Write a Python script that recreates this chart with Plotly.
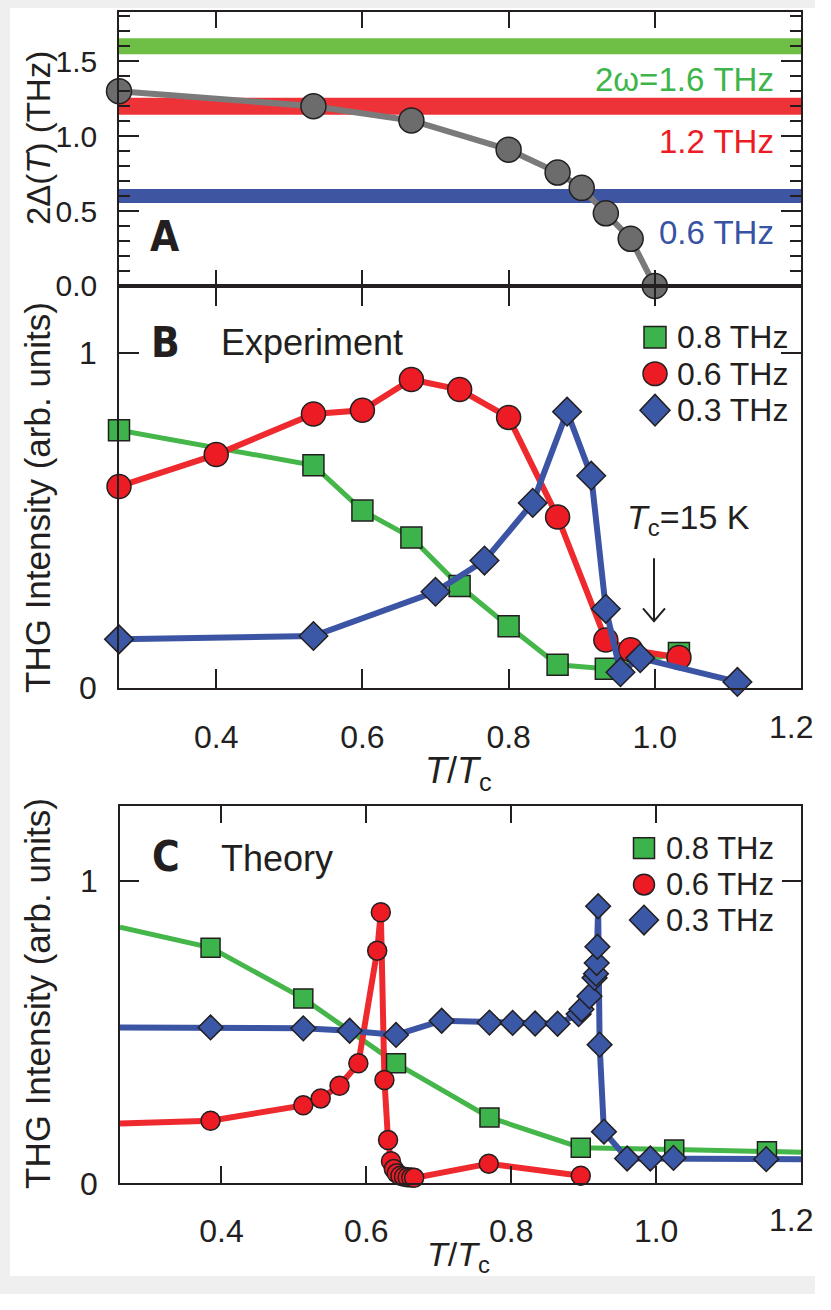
import plotly.graph_objects as go

# The window shows a vertical scrollbar strip, so the figure is kept 815 px wide to avoid
# any overflow (which would make the capture rescale the page).
W, H = 815, 1294
def px(x): return x / W
def py(y): return 1 - y / H

# ---------------- data ----------------
# Panel A: superconducting gap 2Δ(T) vs T/Tc
a_t = [0.267, 0.533, 0.667, 0.8, 0.867, 0.9, 0.933, 0.967, 1.0]
a_gap = [1.30, 1.20, 1.105, 0.91, 0.757, 0.655, 0.485, 0.315, 0.0]
band_freq = [1.6, 1.2, 0.6]
band_labels = ["2ω=1.6 THz", "1.2 THz", "0.6 THz"]
band_label_y = [1.38, 0.967, 0.355]

# Panel B: experiment
b_t_08 = [0.267, 0.533, 0.6, 0.667, 0.733, 0.8, 0.867, 0.933, 1.033]
b_i_08 = [0.77, 0.665, 0.53, 0.45, 0.305, 0.185, 0.07, 0.058, 0.105]
b_t_06 = [0.267, 0.4, 0.533, 0.6, 0.667, 0.733, 0.8, 0.867, 0.933, 0.967, 1.033]
b_i_06 = [0.602, 0.697, 0.818, 0.829, 0.921, 0.891, 0.808, 0.511, 0.144, 0.115, 0.092]
b_t_03 = [0.267, 0.533, 0.7, 0.767, 0.833, 0.88, 0.913, 0.933, 0.953, 0.98, 1.113]
b_i_03 = [0.146, 0.156, 0.288, 0.381, 0.553, 0.825, 0.634, 0.237, 0.048, 0.09, 0.019]

# Panel C: theory (first/last entries of some series are the curve ends at the frame)
c_t_08 = [0.26, 0.385, 0.513, 0.641, 0.770, 0.896, 1.025, 1.153, 1.2]
c_i_08 = [0.848, 0.780, 0.612, 0.397, 0.218, 0.118, 0.112, 0.106, 0.103]
c_t_06 = [0.26, 0.385, 0.513, 0.537, 0.563, 0.589, 0.615, 0.620, 0.625, 0.630, 0.634,
          0.638, 0.642, 0.647, 0.652, 0.657, 0.662, 0.666, 0.769, 0.896]
c_i_06 = [0.198, 0.207, 0.258, 0.281, 0.323, 0.397, 0.770, 0.897, 0.342, 0.143, 0.073,
          0.047, 0.033, 0.025, 0.022, 0.020, 0.019, 0.018, 0.065, 0.025]
c_t_03 = [0.26, 0.385, 0.513, 0.577, 0.641, 0.704, 0.770, 0.802, 0.833, 0.864, 0.893,
          0.897, 0.908, 0.915, 0.917, 0.918, 0.919, 0.920, 0.922, 0.928, 0.960, 0.992,
          1.024, 1.152, 1.2]
c_i_03 = [0.516, 0.516, 0.513, 0.505, 0.491, 0.538, 0.532, 0.531, 0.529, 0.528, 0.560,
          0.576, 0.619, 0.680, 0.694, 0.729, 0.783, 0.917, 0.459, 0.171, 0.082, 0.082,
          0.084, 0.080, 0.080]

legend_labels = ["0.8 THz", "0.6 THz", "0.3 THz"]
x_ticks = [0.4, 0.6, 0.8, 1.0, 1.2]
x_ticktext = ["0.4", "0.6", "0.8", "1.0", ""]   # last label drawn as annotation so it is not cut off
last_x_label = "1.2"

# ---------------- styles ----------------
INK = "#231f20"
GREEN, GREEN_L = "#3cb44b", "#45b649"
RED, RED_L = "#ed1c24", "#ee2a2e"
BLUE, BLUE_L = "#3b58a6", "#3b55a4"
BAND_COLORS = ["#6fbe45", "#ee3338", "#3e55a2"]
TEXT_COLORS = ["#3db54a", "#ed1c24", "#3953a4"]
FONT = "Liberation Sans, Arial, sans-serif"
BOLDC = "DejaVu Sans Condensed, DejaVu Sans, sans-serif"

fig = go.Figure()

# Panel A
fig.add_trace(go.Scatter(x=a_t, y=a_gap, mode="lines+markers", xaxis="x", yaxis="y",
                         line=dict(color="#7a7a7a", width=6),
                         marker=dict(size=25, color="#6c6c6c", line=dict(color=INK, width=1.5)),
                         cliponaxis=False, showlegend=False))

# Panel B
b_series = [(b_t_08, b_i_08, "square", GREEN, GREEN_L, 21, 5, legend_labels[0]),
            (b_t_06, b_i_06, "circle", RED, RED_L, 24, 6, legend_labels[1]),
            (b_t_03, b_i_03, "diamond", BLUE, BLUE_L, 22, 6, legend_labels[2])]
for t, v, sym, col, lcol, sz, lw, name in b_series:
    fig.add_trace(go.Scatter(x=t, y=v, mode="lines+markers", xaxis="x2", yaxis="y2", name=name,
                             line=dict(color=lcol, width=lw),
                             marker=dict(symbol=sym, size=sz, color=col, line=dict(color=INK, width=1.5)),
                             cliponaxis=False, showlegend=False))

# Panel C: lines (clipped to frame) then markers
c_series = [(c_t_08, c_i_08, "square", GREEN, GREEN_L, 19, 5, legend_labels[0], 1, -1),
            (c_t_06, c_i_06, "circle", RED, RED_L, 19, 6, legend_labels[1], 1, None),
            (c_t_03, c_i_03, "diamond", BLUE, BLUE_L, 19, 6, legend_labels[2], 1, -1)]
for t, v, sym, col, lcol, sz, lw, name, s0, s1 in c_series:
    fig.add_trace(go.Scatter(x=t, y=v, mode="lines", xaxis="x3", yaxis="y3",
                             line=dict(color=lcol, width=lw), showlegend=False, hoverinfo="skip"))
for t, v, sym, col, lcol, sz, lw, name, s0, s1 in c_series:
    fig.add_trace(go.Scatter(x=t[s0:s1], y=v[s0:s1], mode="markers", xaxis="x3", yaxis="y3", name=name,
                             marker=dict(symbol=sym, size=sz, color=col, line=dict(color=INK, width=1.5)),
                             cliponaxis=False, showlegend=False))

# ---------------- axes ----------------
base = dict(showline=True, linecolor=INK, linewidth=1.5, mirror="ticks", ticks="inside",
            tickcolor=INK, tickwidth=1.5, showgrid=False, zeroline=False,
            tickfont=dict(family=FONT, size=32, color=INK))

fig.update_layout(
    xaxis=dict(base, domain=[px(119), px(801)], range=[0.267, 1.2], anchor="y",
               tickvals=x_ticks, ticklen=16, showticklabels=False),
    yaxis=dict(base, domain=[py(290), py(12)], range=[0, 1.83], anchor="x",
               tickvals=[0, 0.5, 1.0, 1.5], ticktext=["0.0", "0.5", "1.0", "1.5"], ticklen=20,
               tickfont=dict(family=FONT, size=30, color=INK),
               minor=dict(dtick=0.1, ticklen=11, ticks="inside", tickcolor=INK, tickwidth=1.5),
               ticklabelstandoff=14),
    xaxis2=dict(base, domain=[px(119), px(801)], range=[0.267, 1.2], anchor="y2",
                tickvals=x_ticks, ticktext=x_ticktext, ticklen=20, ticklabelstandoff=20),
    yaxis2=dict(base, domain=[py(698), py(290)], range=[0, 1.2], anchor="x2",
                tickvals=[0, 1], ticktext=["0", "1"], ticklen=20, ticklabelstandoff=14),
    xaxis3=dict(base, domain=[px(120), px(801)], range=[0.26, 1.2], anchor="y3",
                tickvals=x_ticks, ticktext=x_ticktext, ticklen=18, ticklabelstandoff=19),
    yaxis3=dict(base, domain=[py(1200), py(817)], range=[0, 1.25], anchor="x3",
                tickvals=[0, 1], ticktext=["0", "1"], ticklen=19, ticklabelstandoff=14),
)

shapes = []
# page background (white sheet on grey)
shapes.append(dict(type="rect", xref="paper", yref="paper", x0=px(10), x1=1, y0=0, y1=py(8),
                   fillcolor="white", line=dict(width=0), layer="below"))
# frequency bands in panel A
for f, c, w in zip(band_freq, BAND_COLORS, [16, 17, 14]):
    shapes.append(dict(type="line", xref="x domain", yref="y", x0=0, x1=1, y0=f, y1=f,
                       line=dict(color=c, width=w), layer="below"))

def legend_swatches(cx, ys, sq, cd, dw, dh):
    out = []
    out.append(dict(type="rect", xref="paper", yref="paper",
                    x0=px(cx - sq / 2), x1=px(cx + sq / 2), y0=py(ys[0] + sq / 2), y1=py(ys[0] - sq / 2),
                    fillcolor=GREEN, line=dict(color=INK, width=1.5)))
    out.append(dict(type="circle", xref="paper", yref="paper",
                    x0=px(cx - cd / 2), x1=px(cx + cd / 2), y0=py(ys[1] + cd / 2), y1=py(ys[1] - cd / 2),
                    fillcolor=RED, line=dict(color=INK, width=1.5)))
    y = ys[2]
    path = (f"M {px(cx - dw/2)} {py(y)} L {px(cx)} {py(y - dh/2)} L {px(cx + dw/2)} {py(y)} "
            f"L {px(cx)} {py(y + dh/2)} Z")
    out.append(dict(type="path", xref="paper", yref="paper", path=path,
                    fillcolor=BLUE, line=dict(color=INK, width=1.5)))
    return out

shapes += legend_swatches(655, [342, 379, 416], 22, 24, 30, 32)
shapes += legend_swatches(644, [860, 897, 933], 21, 21, 29, 30)

# Tc arrow
ax_ = px(654)
shapes.append(dict(type="path", xref="paper", yref="paper",
                   path=f"M {ax_} {py(566)} L {ax_} {py(630)} M {px(643)} {py(617)} L {ax_} {py(630)} L {px(665)} {py(617)}",
                   line=dict(color=INK, width=2)))

annotations = []
for lab, yv, c in zip(band_labels, band_label_y, TEXT_COLORS):
    annotations.append(dict(text=lab, xref="paper", yref="y", x=px(776), y=yv, xanchor="right",
                            yanchor="middle", showarrow=False, font=dict(family=FONT, size=33, color=c)))

for letter, (lx, ly) in zip(["A", "B", "C"], [(165, 240), (165, 347), (166, 869)]):
    annotations.append(dict(text=f"<b>{letter}</b>", xref="paper", yref="paper", x=px(lx), y=py(ly),
                            xanchor="center", yanchor="middle", showarrow=False,
                            font=dict(family=BOLDC, size=42, color=INK)))
annotations.append(dict(text="Experiment", xref="paper", yref="paper", x=px(219), y=py(347),
                        xanchor="left", yanchor="middle", showarrow=False,
                        font=dict(family=FONT, size=36, color=INK)))
annotations.append(dict(text="Theory", xref="paper", yref="paper", x=px(219), y=py(871),
                        xanchor="left", yanchor="middle", showarrow=False,
                        font=dict(family=FONT, size=36, color=INK)))

for lab, yy in zip(legend_labels, [342, 379, 416]):
    annotations.append(dict(text=lab, xref="paper", yref="paper", x=px(675), y=py(yy), xanchor="left",
                            yanchor="middle", showarrow=False, font=dict(family=FONT, size=32, color=INK)))
for lab, yy in zip(legend_labels, [860, 897, 933]):
    annotations.append(dict(text=lab, xref="paper", yref="paper", x=px(664), y=py(yy), xanchor="left",
                            yanchor="middle", showarrow=False, font=dict(family=FONT, size=31, color=INK)))

annotations.append(dict(text="<i>T</i><sub>c</sub>=15 K", xref="paper", yref="paper", x=px(625), y=py(527),
                        xanchor="left", yanchor="middle", showarrow=False,
                        font=dict(family=FONT, size=34, color=INK)))

# last x tick label of panels B and C, kept inside the page
for yy in [737, 1237]:
    annotations.append(dict(text=last_x_label, xref="paper", yref="paper", x=1, y=py(yy),
                            xanchor="right", yanchor="middle", showarrow=False,
                            font=dict(family=FONT, size=32, color=INK)))

# axis titles
annotations.append(dict(text="2Δ(<i>T</i>) (THz)", xref="paper", yref="paper", x=px(38), y=py(140),
                        textangle=-90, xanchor="center", yanchor="middle", showarrow=False,
                        font=dict(family=FONT, size=33, color=INK)))
for cy in [505, 1008]:
    annotations.append(dict(text="THG Intensity (arb. units)", xref="paper", yref="paper", x=px(38), y=py(cy),
                            textangle=-90, xanchor="center", yanchor="middle", showarrow=False,
                            font=dict(family=FONT, size=35, color=INK)))
annotations.append(dict(text="<i>T</i>/<i>T</i><sub>c</sub>", xref="paper", yref="paper", x=px(458), y=py(784),
                        xanchor="center", yanchor="middle", showarrow=False,
                        font=dict(family=FONT, size=36, color=INK)))
annotations.append(dict(text="<i>T</i>/<i>T</i><sub>c</sub>", xref="paper", yref="paper", x=px(458), y=py(1274),
                        xanchor="center", yanchor="middle", showarrow=False,
                        font=dict(family=FONT, size=34, color=INK)))

fig.update_layout(width=W, height=H, margin=dict(l=0, r=0, t=0, b=0),
                  paper_bgcolor="#efefef", plot_bgcolor="white",
                  shapes=shapes, annotations=annotations, showlegend=False)

fig.write_html("out.html")
